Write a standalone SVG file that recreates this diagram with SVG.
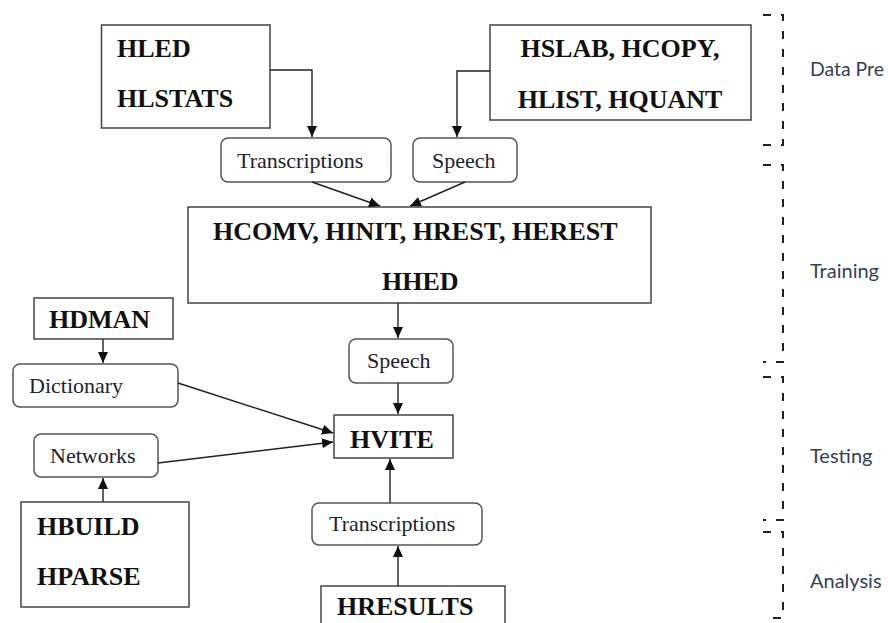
<svg xmlns="http://www.w3.org/2000/svg" width="888" height="623" viewBox="0 0 888 623">
<defs>
<style>
.box{fill:#fff;stroke:#444;stroke-width:1.5}
.rbox{fill:#fff;stroke:#555;stroke-width:1.5}
.bt{font-family:"Liberation Serif","Times New Roman",serif;font-weight:bold;font-size:26px;fill:#111}
.rt{font-family:"Liberation Serif","Times New Roman",serif;font-size:22px;fill:#1e2230}
.lbl{font-family:Lato,"Open Sans",sans-serif;font-size:20px;fill:#34405a}
.con{fill:none;stroke:#222;stroke-width:1.4}
.brk{fill:none;stroke:#222;stroke-width:2;stroke-dasharray:8,10}
</style>
<marker id="arr" markerUnits="userSpaceOnUse" markerWidth="12" markerHeight="12" viewBox="0 0 12 12" refX="11" refY="6" orient="auto">
<path d="M0,1 L11,6 L0,11 z" fill="#111"/>
</marker>
</defs>
<rect width="888" height="623" fill="#fff"/>

<g id="hled"><rect class="box" x="101.5" y="25" width="168.5" height="103"/><text class="bt" x="117" y="57">HLED</text><text class="bt" x="117" y="107">HLSTATS</text></g>
<g id="hslab"><rect class="box" x="490" y="25" width="261" height="95"/><text class="bt" x="620" y="57" text-anchor="middle">HSLAB, HCOPY,</text><text class="bt" x="620" y="108" text-anchor="middle">HLIST, HQUANT</text></g>
<g id="trans1"><rect class="rbox" x="221" y="138" width="170" height="44" rx="7"/><text class="rt" x="237" y="168">Transcriptions</text></g>
<g id="speech1"><rect class="rbox" x="413" y="138" width="104" height="44" rx="7"/><text class="rt" x="432" y="168">Speech</text></g>
<g id="training"><rect class="box" x="188" y="207" width="463" height="96"/><text class="bt" x="213" y="240" font-size="25">HCOMV, HINIT,  HREST, HEREST</text><text class="bt" x="382" y="290" font-size="25">HHED</text></g>
<g id="hdman"><rect class="box" x="34" y="298" width="139" height="41"/><text class="bt" x="49" y="328">HDMAN</text></g>
<g id="speech2"><rect class="rbox" x="349" y="339" width="104" height="44" rx="7"/><text class="rt" x="367" y="368">Speech</text></g>
<g id="dictionary"><rect class="rbox" x="13" y="364" width="165" height="43" rx="7"/><text class="rt" x="29" y="393">Dictionary</text></g>
<g id="hvite"><rect class="box" x="334" y="415" width="119" height="43"/><text class="bt" x="350" y="448" font-size="25">HVITE</text></g>
<g id="networks"><rect class="rbox" x="34" y="434" width="124" height="43" rx="7"/><text class="rt" x="50" y="463">Networks</text></g>
<g id="trans2"><rect class="rbox" x="312" y="503" width="170" height="42" rx="7"/><text class="rt" x="329" y="531">Transcriptions</text></g>
<g id="hbuild"><rect class="box" x="21" y="502" width="168" height="105"/><text class="bt" x="37" y="535">HBUILD</text><text class="bt" x="37" y="585">HPARSE</text></g>
<g id="hresults"><rect class="box" x="321" y="586" width="184" height="60"/><text class="bt" x="337" y="615">HRESULTS</text></g>

<g id="connectors">
<path class="con" d="M270,70 H312 V137" marker-end="url(#arr)"/>
<path class="con" d="M490,71 H457 V137" marker-end="url(#arr)"/>
<path class="con" d="M312,182 L380,206" marker-end="url(#arr)"/>
<path class="con" d="M465,182 L410,206" marker-end="url(#arr)"/>
<path class="con" d="M398,303 V338" marker-end="url(#arr)"/>
<path class="con" d="M398,383 V414" marker-end="url(#arr)"/>
<path class="con" d="M103,339 V363" marker-end="url(#arr)"/>
<path class="con" d="M178,383 L333,433" marker-end="url(#arr)"/>
<path class="con" d="M158,463 L333,442" marker-end="url(#arr)"/>
<path class="con" d="M103,502 V478" marker-end="url(#arr)"/>
<path class="con" d="M390,503 V459" marker-end="url(#arr)"/>
<path class="con" d="M398,586 V546" marker-end="url(#arr)"/>
</g>

<g id="phases">
<path class="brk" d="M763,15 H783 V145 H763"/>
<path class="brk" d="M763,165 H783 V362 H763"/>
<path class="brk" d="M763,377 H783 V520 H763"/>
<path class="brk" d="M763,532 H783 V618 H763"/>
<text class="lbl" x="810" y="76" textLength="74" lengthAdjust="spacingAndGlyphs">Data Pre</text>
<text class="lbl" x="810" y="278">Training</text>
<text class="lbl" x="810" y="463">Testing</text>
<text class="lbl" x="810" y="588">Analysis</text>
</g>
</svg>
